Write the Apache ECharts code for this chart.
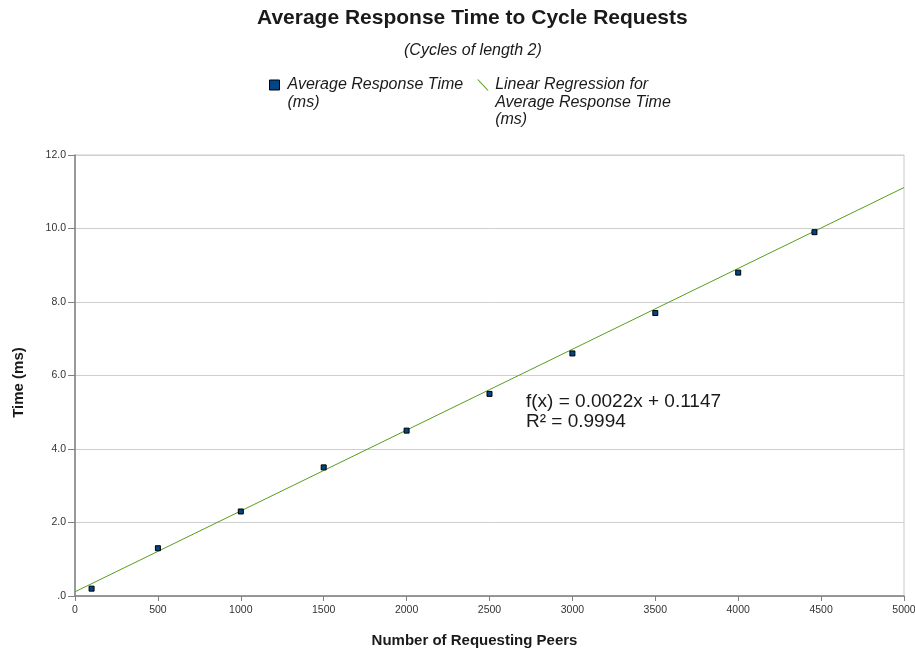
<!DOCTYPE html>
<html>
<head>
<meta charset="utf-8">
<style>
  html, body { margin: 0; padding: 0; background: #ffffff; }
  #chart { width: 915px; height: 649px; }
</style>
<script src="https://cdn.jsdelivr.net/npm/echarts@6/dist/echarts.min.js"></script>
</head>
<body>
<div id="chart"></div>
<script>
// Measured response times per number of requesting peers
const peers = [100, 500, 1000, 1500, 2000, 2500, 3000, 3500, 4000, 4460];
const responseMs = [0.2, 1.3, 2.3, 3.5, 4.5, 5.5, 6.6, 7.7, 8.8, 9.9];

// Fitted regression: f(x) = slope * x + intercept
const slope = 0.0022;
const intercept = 0.1147;
const rSquared = 0.9994;
const fitRange = [0, 5000];

const scatterName = 'Average Response Time\n(ms)';
const fitName = 'Linear Regression for\nAverage Response Time\n(ms)';

const fitLine = fitRange.map(x => [x, slope * x + intercept]);

const FONT = '"Liberation Sans", Arial, sans-serif';
const TEXT = '#1a1a1a';

// Legend icons: the invisible corner points stretch the icon box to the full
// legend row height so the visible glyph sits beside the first text line.
const squareIcon = 'path://M0,0L0,0ZM13,52L13,52ZM0,3.5L10,3.5L10,13.5L0,13.5Z';
const slashIcon = 'path://M0,0L0,0ZM13,52L13,52ZM0,3L1.3,3L11.5,14L10.2,14Z';

const chart = echarts.init(document.getElementById('chart'));

chart.setOption({
  animation: false,
  textStyle: { fontFamily: FONT },
  title: [
    {
      text: 'Average Response Time to Cycle Requests',
      left: 257, top: 8, padding: 0,
      textStyle: { fontFamily: FONT, fontSize: 21, fontWeight: 'bold', color: TEXT }
    },
    {
      text: '(Cycles of length 2)',
      left: 404, top: 43, padding: 0,
      textStyle: { fontFamily: FONT, fontSize: 16, fontStyle: 'italic', fontWeight: 'normal', color: TEXT }
    }
  ],
  legend: {
    top: 76, left: 269, padding: 0,
    itemGap: 14,
    itemWidth: 13, itemHeight: 52,
    symbolKeepAspect: true,
    // pad every entry to three lines so all rows share the same height
    formatter: name => {
      const lines = name.split('\n').length;
      return name + '\n '.repeat(3 - lines);
    },
    textStyle: { fontFamily: FONT, fontSize: 16, fontStyle: 'italic', color: TEXT, lineHeight: 17.5 },
    data: [
      { name: scatterName, icon: squareIcon, itemStyle: { color: '#004586', borderColor: '#000', borderWidth: 1 } },
      { name: fitName, icon: slashIcon, itemStyle: { color: '#579d1c', borderWidth: 0 } }
    ]
  },
  grid: {
    left: 75, right: 11, top: 155, bottom: 53,
    outerBoundsMode: 'none', containLabel: false,
    show: true, borderColor: '#c8c8c8', borderWidth: 1
  },
  xAxis: {
    type: 'value',
    min: 0, max: 5000, interval: 500,
    name: 'Number of Requesting Peers',
    nameLocation: 'middle', nameGap: 37,
    nameTextStyle: { fontFamily: FONT, fontSize: 15, fontWeight: 'bold', color: TEXT, padding: [0, 30, 0, 0] },
    axisLine: { show: true, lineStyle: { color: '#808080', width: 1.5 } },
    axisTick: { show: true, length: 5, lineStyle: { color: '#808080' } },
    axisLabel: {
      fontSize: 10.5, color: '#333', margin: 9,
      showMinLabel: true, showMaxLabel: true, hideOverlap: false,
      formatter: v => String(v)
    },
    splitLine: { show: false }
  },
  yAxis: {
    type: 'value',
    min: 0, max: 12, interval: 2,
    name: 'Time (ms)',
    nameLocation: 'middle', nameGap: 49, nameRotate: 90,
    nameTextStyle: { fontFamily: FONT, fontSize: 15, fontWeight: 'bold', color: TEXT, padding: [0, 14, 0, 0] },
    axisLine: { show: true, lineStyle: { color: '#808080', width: 1.5 } },
    axisTick: { show: true, length: 7, lineStyle: { color: '#808080' } },
    axisLabel: {
      fontSize: 10.5, color: '#333', margin: 9,
      formatter: v => (v === 0 ? '.0' : v.toFixed(1))
    },
    splitLine: { show: true, lineStyle: { color: '#cfcfcf', width: 1 } }
  },
  series: [
    {
      name: fitName,
      type: 'line',
      data: fitLine,
      showSymbol: false,
      symbol: 'none',
      lineStyle: { color: '#579d1c', width: 1 },
      itemStyle: { color: '#579d1c' },
      z: 2
    },
    {
      name: scatterName,
      type: 'scatter',
      data: peers.map((p, i) => [p, responseMs[i]]),
      symbol: 'rect',
      symbolSize: 5,
      itemStyle: { color: '#004586', borderColor: '#000', borderWidth: 1, opacity: 1 },
      z: 3
    }
  ],
  graphic: [
    {
      type: 'text',
      left: 526, top: 392,
      style: {
        text: 'f(x) = ' + slope.toFixed(4) + 'x + ' + intercept.toFixed(4) + '\nR² = ' + rSquared.toFixed(4),
        fontFamily: FONT, fontSize: 19, lineHeight: 20, fill: TEXT
      }
    }
  ]
});
</script>
</body>
</html>
